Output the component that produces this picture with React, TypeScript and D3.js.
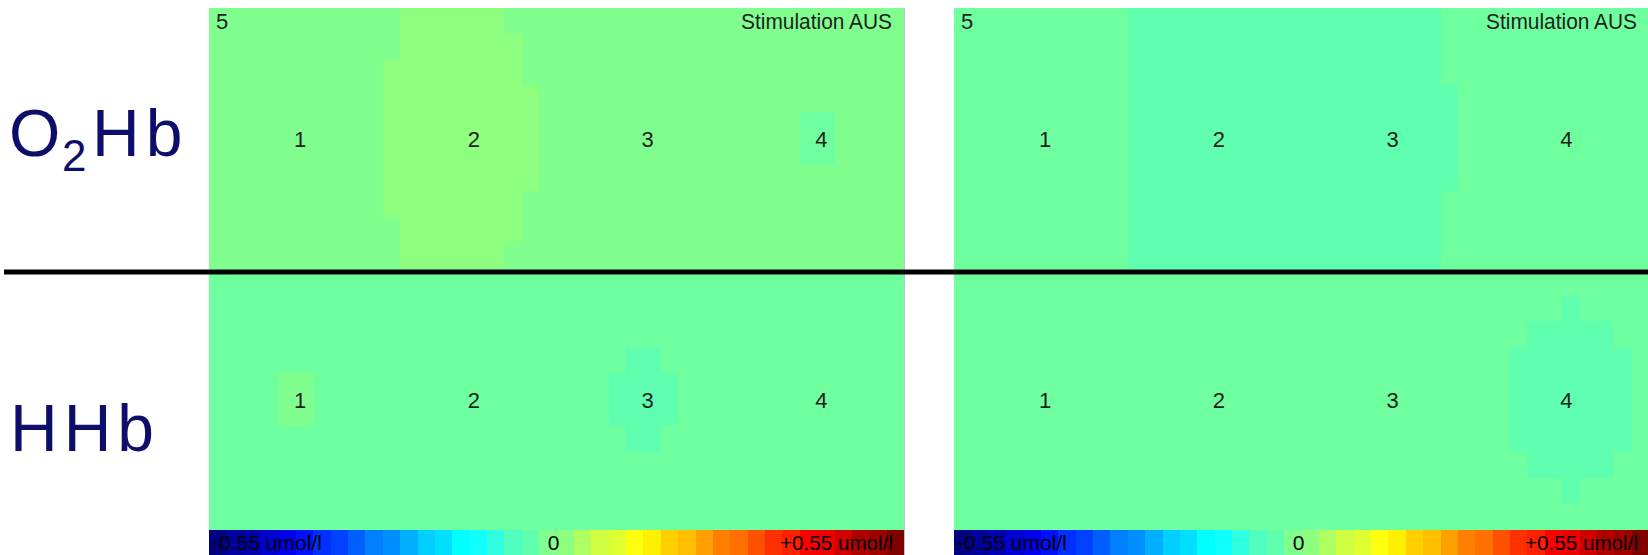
import React from "react";
import * as d3 from "d3";

type Run = [number, string];

// colour levels (umol/l)
const LEVEL_VALUES: Record<string, number> = { A: -0.045, B: -0.03, C: -0.01, D: 0.01 };

const SCALE_MIN = -0.55;
const SCALE_MAX = 0.55;
const SCALE_LABELS = ["-0.55 umol/l", "0", "+0.55 umol/l"];
const SITE_LABELS = ["1", "2", "3", "4"];
const CORNER_LABEL = "5";
const CONDITION_LABEL = "Stimulation AUS";
const N_COLS = 40;
const N_ROWS = 10;
const N_SEGMENTS = 40;

// each row: runs of [number of cells, level]
const O2HB_LEFT: Run[][] = [
  [[11, "C"], [6, "D"], [23, "C"]],
  [[11, "C"], [7, "D"], [22, "C"]],
  [[10, "C"], [8, "D"], [22, "C"]],
  [[10, "C"], [9, "D"], [21, "C"]],
  [[10, "C"], [9, "D"], [15, "C"], [2, "B"], [4, "C"]],
  [[10, "C"], [9, "D"], [15, "C"], [2, "B"], [4, "C"]],
  [[10, "C"], [9, "D"], [21, "C"]],
  [[10, "C"], [8, "D"], [22, "C"]],
  [[11, "C"], [7, "D"], [22, "C"]],
  [[11, "C"], [6, "D"], [23, "C"]],
];

const HHB_LEFT: Run[][] = [
  [[40, "B"]],
  [[40, "B"]],
  [[40, "B"]],
  [[24, "B"], [2, "A"], [14, "B"]],
  [[4, "B"], [2, "C"], [17, "B"], [4, "A"], [13, "B"]],
  [[4, "B"], [2, "C"], [17, "B"], [4, "A"], [13, "B"]],
  [[24, "B"], [2, "A"], [14, "B"]],
  [[40, "B"]],
  [[40, "B"]],
  [[40, "B"]],
];

const O2HB_RIGHT: Run[][] = [
  [[10, "B"], [18, "A"], [12, "B"]],
  [[10, "B"], [18, "A"], [12, "B"]],
  [[10, "B"], [18, "A"], [12, "B"]],
  [[10, "B"], [19, "A"], [11, "B"]],
  [[10, "B"], [19, "A"], [11, "B"]],
  [[10, "B"], [19, "A"], [11, "B"]],
  [[10, "B"], [19, "A"], [11, "B"]],
  [[10, "B"], [18, "A"], [12, "B"]],
  [[10, "B"], [18, "A"], [12, "B"]],
  [[10, "B"], [18, "A"], [12, "B"]],
];

const HHB_RIGHT: Run[][] = [
  [[40, "B"]],
  [[35, "B"], [1, "A"], [4, "B"]],
  [[33, "B"], [5, "A"], [2, "B"]],
  [[32, "B"], [7, "A"], [1, "B"]],
  [[32, "B"], [7, "A"], [1, "B"]],
  [[32, "B"], [7, "A"], [1, "B"]],
  [[32, "B"], [7, "A"], [1, "B"]],
  [[33, "B"], [5, "A"], [2, "B"]],
  [[35, "B"], [1, "A"], [4, "B"]],
  [[40, "B"]],
];

// symmetric jet palette, 64 levels
const u = (j: number) => (j < 1 || j > 47 ? 0 : j <= 16 ? j / 16 : j <= 31 ? 1 : (48 - j) / 16);
const PALETTE = d3
  .range(1, 65)
  .map((R) => d3.rgb(Math.round(255 * u(R - 24)), Math.round(255 * u(R - 8)), Math.round(255 * u(R + 7))).formatHex());
const color = d3.scaleQuantize<string>().domain([SCALE_MIN, SCALE_MAX]).range(PALETTE);

const PANEL_W = 695;
const TOP = 8;
const BOTTOM = 530;
const BAR_BOTTOM = 555;
const FONT = "'Liberation Sans', Arial, sans-serif";

function Panel({ x0, top, bottom }: { x0: number; top: Run[][]; bottom: Run[][] }) {
  const x = d3.scaleLinear().domain([0, N_COLS]).range([x0, x0 + PANEL_W]);
  const y = d3.scaleLinear().domain([0, 2 * N_ROWS]).range([TOP, BOTTOM]);
  const rows = [...top, ...bottom];
  const rects: JSX.Element[] = [];
  rows.forEach((runs, r) => {
    let c = 0;
    runs.forEach(([n, lvl], k) => {
      rects.push(
        <rect
          key={`${r}-${k}`}
          x={x(c)}
          y={y(r)}
          width={x(c + n) - x(c)}
          height={y(r + 1) - y(r)}
          fill={color(LEVEL_VALUES[lvl])}
        />
      );
      c += n;
    });
  });
  const bx = d3.scaleLinear().domain([SCALE_MIN, SCALE_MAX]).range([x0, x0 + PANEL_W]);
  const step = (SCALE_MAX - SCALE_MIN) / N_SEGMENTS;
  const segs = d3.range(N_SEGMENTS).map((k) => SCALE_MIN + k * step);
  return (
    <g>
      <g shapeRendering="crispEdges">{rects}</g>
      <g shapeRendering="crispEdges">
        {segs.map((v, k) => (
          <rect key={k} x={bx(v)} y={BOTTOM} width={bx(v + step) - bx(v)} height={BAR_BOTTOM - BOTTOM} fill={color(v + step / 2)} />
        ))}
      </g>
      <g fontFamily={FONT} fill="#1e1e1e" fontSize={22}>
        <text x={x0 + 7} y={29}>{CORNER_LABEL}</text>
        <text x={x0 + 683} y={29} textAnchor="end" textLength={151} lengthAdjust="spacingAndGlyphs">
          {CONDITION_LABEL}
        </text>
        {SITE_LABELS.map((s, i) => (
          <text key={"t" + i} x={x(5.25 + 10 * i)} y={y(5.33)} textAnchor="middle">{s}</text>
        ))}
        {SITE_LABELS.map((s, i) => (
          <text key={"b" + i} x={x(5.25 + 10 * i)} y={y(15.33)} textAnchor="middle">{s}</text>
        ))}
      </g>
      <g fontFamily={FONT} fill="#000" fontSize={21}>
        <text x={x0 + 3} y={550} textLength={110} lengthAdjust="spacingAndGlyphs">{SCALE_LABELS[0]}</text>
        <text x={bx(0) - 3} y={550} textAnchor="middle">{SCALE_LABELS[1]}</text>
        <text x={x0 + 684} y={550} textAnchor="end" textLength={113} lengthAdjust="spacingAndGlyphs">{SCALE_LABELS[2]}</text>
      </g>
    </g>
  );
}

export default function App() {
  return (
    <svg
      width={1648}
      height={555}
      style={{ position: "absolute", left: 0, top: 0, background: "#fff" }}
    >
      <Panel x0={209} top={O2HB_LEFT} bottom={HHB_LEFT} />
      <Panel x0={954} top={O2HB_RIGHT} bottom={HHB_RIGHT} />
      <line x1={904.5} x2={904.5} y1={TOP} y2={BAR_BOTTOM} stroke="#c4c4c4" strokeWidth={1} />
      <line x1={4} x2={1648} y1={272} y2={272} stroke="#000" strokeWidth={5} />
      <g fontFamily={FONT} fill="#0d0d6b" fontSize={66}>
        <text>
          <tspan x={9} y={156}>O</tspan>
          <tspan x={62} y={171} fontSize={44}>2</tspan>
          <tspan x={92} y={156} letterSpacing={6}>Hb</tspan>
        </text>
        <text x={10} y={451} letterSpacing={6}>HHb</text>
      </g>
    </svg>
  );
}
